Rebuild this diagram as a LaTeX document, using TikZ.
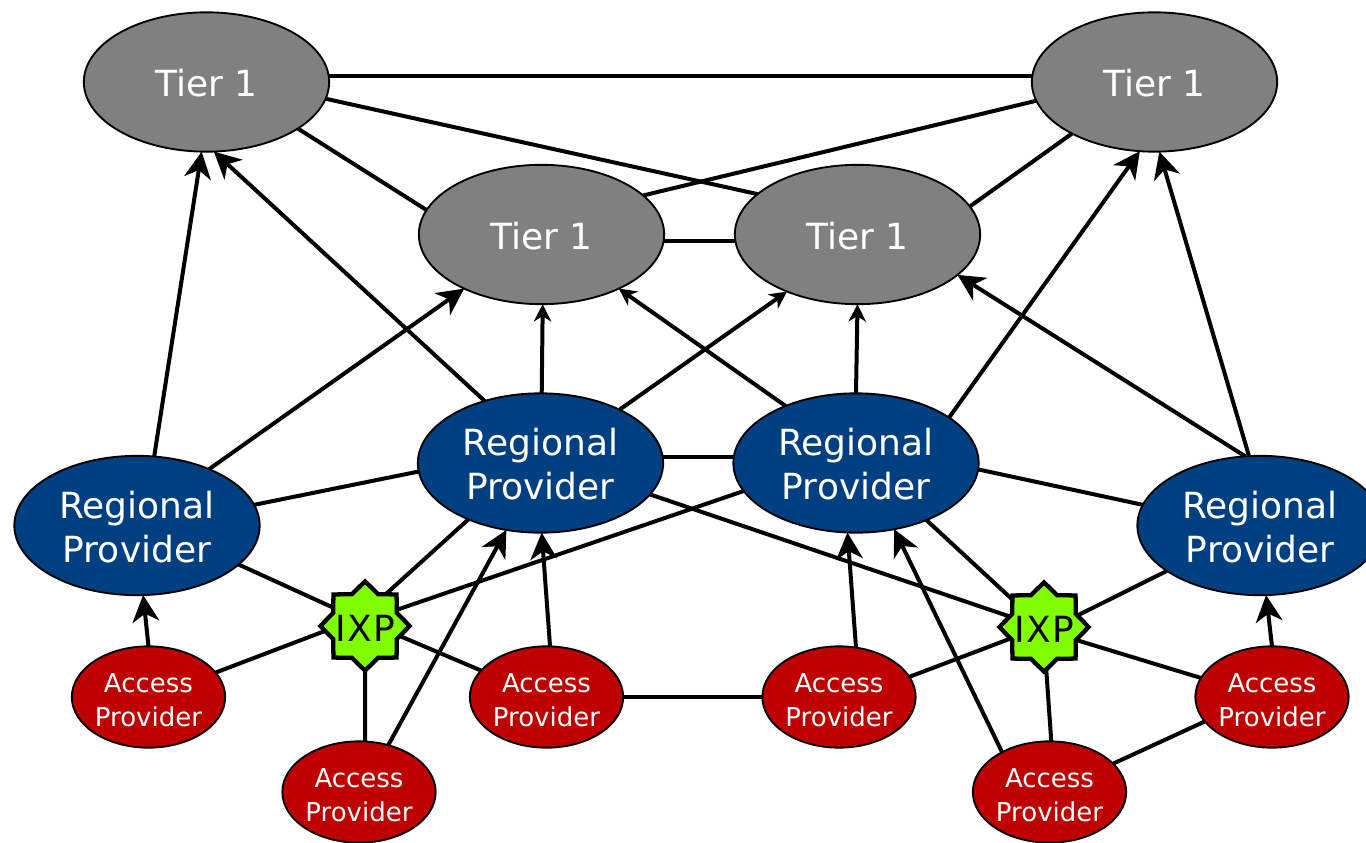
\documentclass[tikz,border=0pt]{standalone}
\usepackage{fontspec}
\setmainfont{DejaVu Sans}
\usetikzlibrary{shapes.geometric,arrows.meta,backgrounds}
\definecolor{tiergray}{HTML}{808080}
\definecolor{regblue}{HTML}{004080}
\definecolor{accred}{HTML}{BF0000}
\definecolor{ixpgreen}{HTML}{7FFF00}
\tikzset{
  tier/.style={ellipse,draw=black,line width=1.4pt,fill=tiergray,text=white,minimum width=184pt,minimum height=104.5pt,inner sep=0pt,outer sep=0pt,font=\fontsize{27}{33}\selectfont,align=center,text height=22.5pt},
  regional/.style={ellipse,draw=black,line width=1.4pt,fill=regblue,text=white,minimum width=184pt,minimum height=104.5pt,inner sep=0pt,outer sep=0pt,font=\fontsize{27}{33}\selectfont,align=center,text height=55.5pt},
  access/.style={ellipse,draw=black,line width=1.4pt,fill=accred,text=white,minimum width=115pt,minimum height=76pt,inner sep=0pt,outer sep=0pt,font=\fontsize{19.5}{26}\selectfont,align=center,text height=44.8pt},
  ixp/.style={star,star points=8,star point ratio=1.3,draw=black,line width=3.2pt,fill=ixpgreen,text=black,minimum size=67pt,inner sep=0pt,outer sep=0pt,font=\fontsize{27}{30}\selectfont\addfontfeature{LetterSpace=4},text height=23pt},
  link/.style={draw=black,line width=3pt},
  uplink/.style={link,-{Stealth[length=20pt,width=20pt,inset=6pt]}},
  smallup/.style={link,-{Stealth[length=13pt,width=13pt,inset=4pt]}}
}
\begin{document}
\begin{tikzpicture}[x=0.75pt,y=-0.75pt]
\useasboundingbox (0,0) rectangle (1366,842);
\node[tier] (TL) at (206.5,82) {Tier 1};
\node[tier] (TR) at (1154.5,82) {Tier 1};
\node[tier] (ML) at (541.5,234.5) {Tier 1};
\node[tier] (MR) at (857.5,234.5) {Tier 1};
\node[regional] (RL) at (137,525.5) {Regional\\Provider};
\node[regional] (RML) at (540.5,463) {Regional\\Provider};
\node[regional] (RMR) at (856,463) {Regional\\Provider};
\node[regional] (RR) at (1260,525.5) {Regional\\Provider};
\node[access] (A1) at (148.5,697) {Access\\Provider};
\node[access] (A2) at (359,792) {Access\\Provider};
\node[access] (A3) at (546.5,697) {Access\\Provider};
\node[access] (A4) at (839,697) {Access\\Provider};
\node[access] (A5) at (1049.5,792) {Access\\Provider};
\node[access] (A6) at (1272,697) {Access\\Provider};
\node[ixp] (X1) at (365,626) {\makebox[0pt]{IXP}};
\node[ixp] (X2) at (1044,627) {\makebox[0pt]{IXP}};
\begin{pgfonlayer}{background}
\draw[link] (TL.3.3) -- (TR.177.7);
\draw[link] (TL.-8.5) -- (MR.158.7);
\draw[link] (TR.189.5) -- (ML.21.6);
\draw[link] (TL.-27.6) -- (ML.168.8);
\draw[link] (TR.212.7) -- (MR.14.2);
\draw[link] (ML.-3.8) -- (MR.183.8);
\draw[uplink] (RL.76.2) -- (TL.-94.9);
\draw[uplink] (RML.132.6) -- (TL.-84.3);
\draw[uplink] (RL.38) -- (ML.215.5);
\draw[smallup] (RML.89) -- (ML.-89);
\draw[smallup] (RML.34.5) -- (MR.219);
\draw[smallup] (RMR.141.2) -- (ML.-35.6);
\draw[smallup] (RMR.90) -- (MR.-90);
\draw[uplink] (RMR.26.1) -- (TR.258.7);
\draw[uplink] (RR.102.3) -- (MR.-22.2);
\draw[uplink] (RR.99.9) -- (TR.-86.7);
\draw[link] (RML.3.2) -- (RMR.177.7);
\draw[link] (RL.10.9) -- (RML.184.7);
\draw[link] (RMR.-3.7) -- (RR.170.6);
\draw[link] (RL.-21.7) -- (X1.150);
\draw[link] (X1.57.2) -- (RML.218.7);
\draw[link] (X1.27.2) -- (RMR.194.2);
\draw[link] (RML.-16.2) -- (X2.163.6);
\draw[link] (RMR.-39.6) -- (X2.139.8);
\draw[link] (X2.19.4) -- (RR.206.6);
\draw[link] (A1.20.2) -- (X1.187.9);
\draw[link] (X1.-16.6) -- (A3.158.4);
\draw[link] (X1.-90) -- (A2.83.3);
\draw[link] (A3.0) -- (A4.180);
\draw[link] (A4.16.8) -- (X2.199.9);
\draw[link] (X2.-22.8) -- (A6.165.6);
\draw[link] (X2.-87.3) -- (A5.88.9);
\draw[link] (A5.24.7) -- (A6.200.5);
\draw[uplink] (A1.90) -- (RL.-85.2);
\draw[uplink] (A2.58.3) -- (RML.243.4);
\draw[uplink] (A3.86.6) -- (RML.-89.2);
\draw[uplink] (A4.71.2) -- (RMR.263.5);
\draw[uplink] (A5.140.8) -- (RMR.-60.3);
\draw[uplink] (A6.90) -- (RR.-85.2);
\end{pgfonlayer}
\end{tikzpicture}
\end{document}
